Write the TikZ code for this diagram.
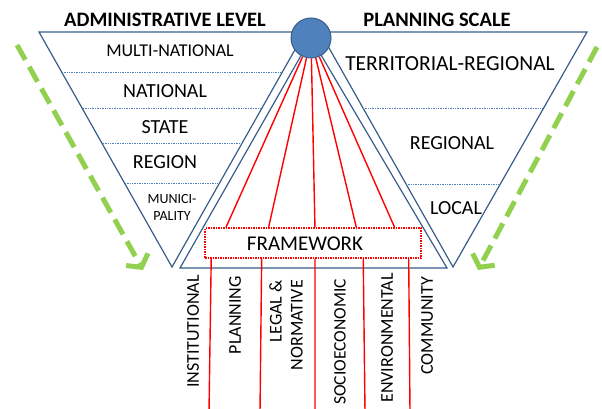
\documentclass[tikz,border=0pt]{standalone}
\usepackage{fontspec}
\setmainfont{Carlito}
\usetikzlibrary{arrows.meta, positioning, calc}
\definecolor{OutlineBlue}{RGB}{56, 93, 138}
\definecolor{HubBlue}{RGB}{79, 129, 189}
\definecolor{RuleBlue}{RGB}{79, 129, 189}
\definecolor{FlowGreen}{RGB}{146, 208, 80}
\definecolor{LinkRed}{RGB}{255, 0, 0}

\begin{document}
\begin{tikzpicture}[
    x=1pt, y=-1pt,
    % Styles
    funnel/.style={draw=OutlineBlue, line width=1.2pt, line join=miter},
    divider/.style={draw=RuleBlue, densely dotted, line width=0.7pt},
    heading/.style={font=\fontsize{20.5}{22}\selectfont\bfseries, inner sep=0pt},
    level/.style={font=\fontsize{20}{22}\selectfont, inner sep=0pt, align=center},
    sublevel/.style={font=\fontsize{18}{20}\selectfont, inner sep=0pt, align=center},
    tinylevel/.style={font=\fontsize{14}{17}\selectfont, inner sep=0pt, align=center},
    hub/.style={circle, draw=OutlineBlue, fill=HubBlue, line width=1pt, minimum size=40pt, inner sep=0pt},
    framebox/.style={rectangle, draw=LinkRed, densely dotted, line width=1.5pt, fill=white, minimum width=216pt, minimum height=30pt, inner sep=0pt},
    link/.style={draw=LinkRed, line width=1.4pt},
    flow/.style={draw=FlowGreen, line width=5pt, dash pattern=on 17pt off 8pt, -{Straight Barb[length=9pt, width=25pt]}},
    aspect/.style={rotate=90, anchor=east, font=\fontsize{18}{21}\selectfont, inner sep=0pt, align=right}
]
\clip (0,0) rectangle (602,409);

% ==========================================================================================
% THE THREE TRIANGLES
% ==========================================================================================

% Administrative level (left)
\draw[funnel] (39,32) -- (305,32) -- (172,267) -- cycle;
% Planning scale (right)
\draw[funnel] (587,32) -- (320,32) -- (453,267) -- cycle;
% Framework (middle, upright)
\draw[funnel] (311,38) -- (180,268) -- (447,268) -- cycle;

% Dotted dividers
\draw[divider] (62,72) -- (282,72);
\draw[divider] (83,108) -- (261,108);
\draw[divider] (103,143) -- (241,143);
\draw[divider] (125,183) -- (218,183);
\draw[divider] (363,108) -- (543,108);
\draw[divider] (406,184) -- (500,184);

% Hub on the top edge
\node[hub] (hub) at (311,38) {};

% ==========================================================================================
% LABELS
% ==========================================================================================

\node[heading] (admin) at (165,20) {ADMINISTRATIVE LEVEL};
\node[heading] (scale) at (437,20) {PLANNING SCALE};

\node[sublevel] (multi) at (170,51) {MULTI-NATIONAL};
\node[level] (national) at (165,91) {NATIONAL};
\node[level] (state) at (165,127) {STATE};
\node[level] (region) at (165,162) {REGION};
\node[tinylevel] (munici) at (172,207) {MUNICI-\\PALITY};

\node[level, font=\fontsize{21.5}{23}\selectfont] (territorial) at (450,64) {TERRITORIAL-REGIONAL};
\node[level] (regional) at (452,143) {REGIONAL};
\node[level] (local) at (456,208) {LOCAL};

% ==========================================================================================
% FRAMEWORK AND ITS ASPECTS
% ==========================================================================================

\node[framebox] (frame) at (313,243) {};
\node[level, font=\fontsize{21}{23}\selectfont] (frametitle) at (305,244) {FRAMEWORK};

% Red links: hub -> top of box, bottom of box -> down
\foreach \i/\top/\bot/\end in {1/0.10/0.032/209, 2/0.296/0.264/260, 3/0.509/0.509/315, 4/0.699/0.731/365, 5/0.875/0.94/410} {
    \coordinate (intop\i) at ($(frame.north west)!\top!(frame.north east)$);
    \coordinate (inbot\i) at ($(frame.south west)!\bot!(frame.south east)$);
    \coordinate (outend\i) at (\end,412);
    \draw[link] (hub) -- (intop\i);
    \draw[link] (inbot\i) -- (outend\i);
}

% Aspect labels
\node[aspect] (institutional) at (193,275) {INSTITUTIONAL};
\node[aspect] (planning) at (235,276) {PLANNING};
\node[aspect] (legal) at (286,280) {LEGAL \&\\NORMATIVE};
\node[aspect, font=\fontsize{17.5}{21}\selectfont] (socio) at (340,279) {SOCIOECONOMIC};
\node[aspect] (environ) at (387,273) {ENVIRONMENTAL};
\node[aspect] (community) at (427,277) {COMMUNITY};

% ==========================================================================================
% GREEN FLOW ARROWS
% ==========================================================================================

\coordinate (flowl_start) at (17,45);
\coordinate (flowl_end) at (143,270);
\coordinate (flowr_start) at (597,47);
\coordinate (flowr_end) at (478,270);
\draw[flow] (flowl_start) -- (flowl_end);
\draw[flow] (flowr_start) -- (flowr_end);

\end{tikzpicture}
\end{document}
